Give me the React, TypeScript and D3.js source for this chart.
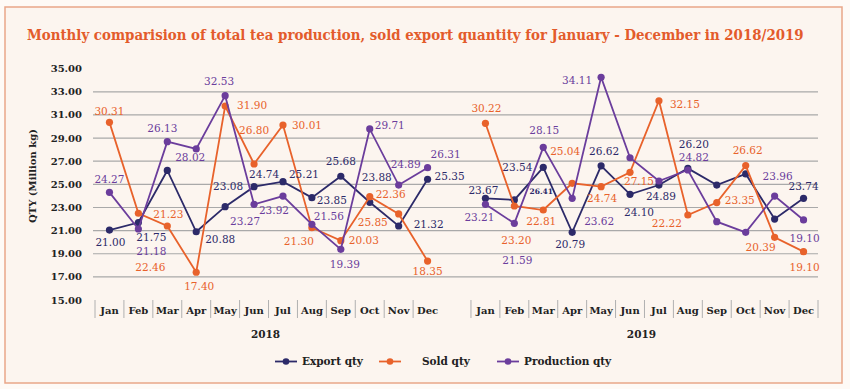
import React, { useLayoutEffect, useRef, useState } from 'react';
import * as d3 from 'd3';

const months = ['Jan', 'Feb', 'Mar', 'Apr', 'May', 'Jun', 'Jul', 'Aug', 'Sep', 'Oct', 'Nov', 'Dec'];
const years = ['2018', '2019'];
const yTicks = [15, 17, 19, 21, 23, 25, 27, 29, 31, 33, 35];
const gridTicks = [17, 19, 21, 23, 25, 27, 29, 31, 33];

// plotted values (million kg)
const export2018 = [21.05, 21.7, 26.2, 20.9, 23.07, 24.8, 25.23, 23.85, 25.7, 23.45, 21.4, 25.44];
const sold2018 = [30.36, 22.5, 21.4, 17.4, 31.77, 26.76, 30.13, 21.25, 20.13, 23.93, 22.44, 18.37];
const prod2018 = [24.31, 21.14, 28.69, 28.06, 32.67, 23.27, 23.99, 21.54, 19.38, 29.79, 24.94, 26.44];
const export2019 = [23.79, 23.65, 26.47, 20.85, 26.6, 24.14, 24.94, 26.38, 24.94, 25.9, 22.0, 23.79];
const sold2019 = [30.28, 23.13, 22.78, 25.09, 24.8, 26.04, 32.23, 22.35, 23.42, 26.62, 20.42, 19.18];
const prod2019 = [23.27, 21.63, 28.2, 23.79, 34.26, 27.3, 25.29, 26.24, 21.77, 20.85, 23.99, 21.92];

// value labels as printed on the chart
const exportLabels2018 = ['21.00', '21.75', '', '20.88', '23.08', '24.74', '25.21', '23.85', '25.68', '23.88', '21.32', '25.35'];
const soldLabels2018 = ['30.31', '22.46', '21.23', '17.40', '31.90', '26.80', '30.01', '21.30', '20.03', '25.85', '22.36', '18.35'];
const prodLabels2018 = ['24.27', '21.18', '26.13', '28.02', '32.53', '23.27', '23.92', '21.56', '19.39', '29.71', '24.89', '26.31'];
const exportLabels2019 = ['23.67', '23.54', '26.41', '20.79', '26.62', '24.10', '24.89', '26.20', '', '', '', '23.74'];
const soldLabels2019 = ['30.22', '23.20', '22.81', '25.04', '24.74', '27.15', '32.15', '22.22', '23.35', '26.62', '20.39', '19.10'];
const prodLabels2019 = ['23.21', '21.59', '28.15', '23.62', '34.11', '', '', '24.82', '', '', '23.96', '19.10'];

// label placement relative to its point [dx, dy]
const exportOff2018 = [[1, 12], [13, 15], [0, 0], [24, 8], [3, -20], [10, -12], [21, -7], [20, 3], [0, -15], [7, -25], [30, -2], [22, -3]];
const soldOff2018 = [[0, -11], [12, 54], [1, -12], [3, 14], [27, -1], [0, -34], [24, 0], [-13, 14], [23, 0], [3, 26], [-8, -20], [0, 10]];
const prodOff2018 = [[0, -13], [13, 22], [-5, -13], [-6, 8], [-6, -14], [-9, 17], [-9, 14], [17, -8], [4, 15], [20, -4], [7, -21], [18, -13]];
const exportOff2019 = [[-2, -8], [3, -33], [-2, 24], [-2, 12], [3, -15], [9, 18], [2, 11], [6, -24], [0, 0], [0, 0], [0, 0], [0, -12]];
const soldOff2019 = [[1, -15], [2, 34], [-2, 11], [-7, -32], [1, 12], [9, 9], [26, 4], [-21, 8], [23, -2], [2, -15], [-14, 10], [1, 16]];
const prodOff2019 = [[-6, 13], [3, 37], [1, -17], [27, 23], [-24, 3], [0, 0], [0, 0], [6, -13], [0, 0], [0, 0], [3, -20], [1, 18]];

const NAVY = '#2c2a69';
const ORANGE = '#e8622b';
const PURPLE = '#6b3d9c';

const W = 850;
const H = 389;
const TITLE = 'Monthly comparision of total tea production, sold export quantity for January - December in 2018/2019';

const series = [
  { name: 'Export qty', color: NAVY, data: [export2018, export2019], labels: [exportLabels2018, exportLabels2019], off: [exportOff2018, exportOff2019] },
  { name: 'Sold qty', color: ORANGE, data: [sold2018, sold2019], labels: [soldLabels2018, soldLabels2019], off: [soldOff2018, soldOff2019] },
  { name: 'Production qty', color: PURPLE, data: [prod2018, prod2019], labels: [prodLabels2018, prodLabels2019], off: [prodOff2018, prodOff2019] },
];

const legendX = [275, 379, 497];

export default function App() {
  const titleRef = useRef<SVGTextElement>(null);
  const [titleScale, setTitleScale] = useState(0.7);

  useLayoutEffect(() => {
    // squeeze the title horizontally to the reference width
    if (titleRef.current) {
      const len = titleRef.current.getComputedTextLength();
      if (len > 0) setTitleScale(776 / len);
    }
  }, []);

  // 12 months, one empty slot, 12 months
  const x = d3.scaleBand<number>().domain(d3.range(25)).range([95, 818]).padding(0);
  const y = d3.scaleLinear().domain([15, 35]).range([300, 68.7]);
  const bw = x.bandwidth();
  const slot = (yi: number, m: number) => yi * 13 + m;
  const cx = (yi: number, m: number) => (x(slot(yi, m)) as number) + bw / 2;

  const line = d3.line<[number, number]>().x(d => d[0]).y(d => d[1]);
  const serif = '"DejaVu Serif", serif';

  return (
    <div>
      <style>{'body{margin:0}'}</style>
      <svg width={W} height={H} style={{ display: 'block' }}>
        <rect x={0} y={0} width={W} height={H} fill="#fefaf6" />
        <rect x={5} y={7} width={837} height={376} fill="#fcf5ef" stroke="#e9a789" strokeWidth={1.5} />
        <g transform={`translate(27,40) scale(${titleScale},1)`}>
          <text ref={titleRef} x={0} y={0} fontFamily={serif} fontWeight="bold" fontSize={15.5} fill="#e35b2b">
            {TITLE}
          </text>
        </g>

        {gridTicks.map(t => (
          <line key={t} x1={93} x2={818} y1={y(t)} y2={y(t)} stroke="#a9a9a9" strokeWidth={1.2} />
        ))}
        {yTicks.map(t => (
          <text key={t} x={82} y={y(t)} dy="0.35em" textAnchor="end" fontFamily={serif}
            fontWeight="bold" fontSize={10} fill="#222">{t.toFixed(2)}</text>
        ))}
        <text transform={`translate(36,${176}) rotate(-90)`} textAnchor="middle" fontFamily={serif}
          fontWeight="bold" fontSize={10} fill="#222">QTY (Million kg)</text>

        {years.map((yr, yi) => {
          const left = x(slot(yi, 0)) as number;
          const right = (x(slot(yi, 11)) as number) + bw;
          const edges = months.map((_, m) => x(slot(yi, m)) as number);
          if (yi === 1) edges.push(right);
          return (
            <g key={yr}>
              {edges.map((e, i) => (
                <line key={i} x1={e} x2={e} y1={300} y2={318} stroke="#b0b0b0" strokeWidth={1} />
              ))}
              {months.map((m, i) => (
                <text key={m} x={cx(yi, i)} y={314} textAnchor="middle" fontFamily={serif}
                  fontWeight="bold" fontSize={10} fill="#222">{m}</text>
              ))}
              <text x={(left + right) / 2 - 3} y={338} textAnchor="middle" fontFamily={serif}
                fontWeight="bold" fontSize={10.5} fill="#222">{yr}</text>
            </g>
          );
        })}

        {series.map(s => (
          <g key={s.name}>
            {s.data.map((vals, yi) => {
              const pts = vals.map((v, m) => [cx(yi, m), y(v)] as [number, number]);
              return (
                <g key={yi}>
                  <path d={line(pts) || ''} fill="none" stroke={s.color} strokeWidth={1.8} />
                  {pts.map((p, m) => (
                    <circle key={m} cx={p[0]} cy={p[1]} r={3.6} fill={s.color} />
                  ))}
                </g>
              );
            })}
          </g>
        ))}

        {series.map(s => (
          <g key={s.name + '-labels'}>
            {s.data.map((vals, yi) =>
              vals.map((v, m) => {
                const txt = s.labels[yi][m];
                if (!txt) return null;
                const [dx, dy] = s.off[yi][m];
                const small = txt === '26.41' && yi === 1;
                return (
                  <text key={yi + '-' + m} x={cx(yi, m) + dx} y={y(v) + dy} dy="0.35em"
                    textAnchor="middle" fontFamily={serif} fontSize={small ? 7.5 : 10.5}
                    fontWeight={small ? 'bold' : 'normal'} fill={s.color}>{txt}</text>
                );
              })
            )}
          </g>
        ))}

        {series.map((s, i) => (
          <g key={s.name + '-legend'}>
            <line x1={legendX[i]} x2={legendX[i] + 22} y1={361.5} y2={361.5} stroke={s.color} strokeWidth={1.8} />
            <circle cx={legendX[i] + 11} cy={361.5} r={3.3} fill={s.color} />
            <text x={legendX[i] + (i === 1 ? 43 : 27)} y={365} fontFamily={serif} fontWeight="bold"
              fontSize={10.5} fill="#222">{s.name}</text>
          </g>
        ))}
      </svg>
    </div>
  );
}
